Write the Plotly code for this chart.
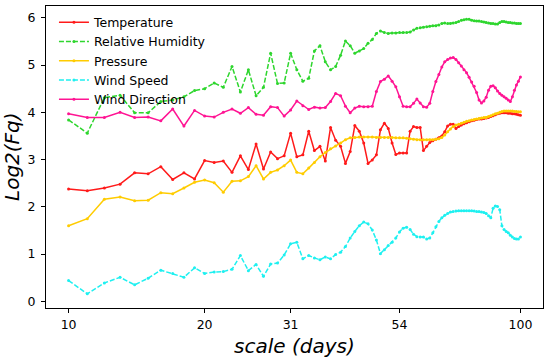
import plotly.graph_objects as go

scales = list(range(10, 101))

temperature = [2.38, 2.34, 2.40, 2.48, 2.72, 2.70, 2.85, 2.58, 2.72, 2.59,
               2.98, 2.94, 2.97, 2.73, 3.08, 2.79, 3.33, 2.80, 3.16, 3.02,
               3.08, 3.56, 3.06, 3.10, 3.60, 3.19, 3.28, 2.97, 3.68, 3.41,
               3.28, 2.92, 3.17, 3.72, 3.60, 3.35, 2.92, 2.99, 3.10, 3.63,
               3.77, 3.66, 3.35, 3.11, 3.14, 3.14, 3.14, 3.60, 3.70, 3.68,
               3.68, 3.19, 3.28, 3.36, 3.40, 3.43, 3.46, 3.50, 3.59, 3.71,
               3.75, 3.75, 3.66, 3.70, 3.73, 3.76, 3.78, 3.80, 3.82, 3.83,
               3.85, 3.86, 3.86, 3.87, 3.88, 3.89, 3.91, 3.93, 3.95, 3.97,
               3.98, 3.99, 3.99, 3.99, 3.98, 3.98, 3.97, 3.97, 3.96, 3.95,
               3.94]

humidity = [3.84, 3.56, 4.31, 4.36, 3.99, 3.99, 4.23, 4.26, 4.33, 4.46,
            4.50, 4.62, 4.53, 4.97, 4.43, 4.90, 4.35, 4.53, 5.25, 4.61,
            4.62, 5.25, 4.90, 4.66, 4.72, 5.30, 5.41, 5.07, 4.90, 4.97,
            5.21, 5.51, 5.41, 5.25, 5.30, 5.35, 5.46, 5.54, 5.67, 5.72,
            5.69, 5.67, 5.68, 5.68, 5.69, 5.69, 5.69, 5.70, 5.74, 5.78,
            5.79, 5.80, 5.81, 5.82, 5.83, 5.83, 5.85, 5.88, 5.89, 5.88,
            5.88, 5.89, 5.90, 5.92, 5.95, 5.96, 5.97, 5.97, 5.95, 5.94,
            5.93, 5.93, 5.92, 5.91, 5.90, 5.89, 5.88, 5.88, 5.87, 5.87,
            5.90, 5.92, 5.92, 5.91, 5.90, 5.90, 5.89, 5.89, 5.88, 5.88,
            5.88]

pressure = [1.60, 1.75, 2.16, 2.21, 2.13, 2.14, 2.30, 2.28, 2.40, 2.52,
            2.57, 2.51, 2.31, 2.54, 2.55, 2.64, 2.87, 2.59, 2.73, 2.78,
            2.87, 2.99, 2.73, 2.70, 2.82, 2.94, 3.06, 3.15, 3.23, 3.29,
            3.35, 3.42, 3.46, 3.47, 3.48, 3.48, 3.48, 3.48, 3.47, 3.47,
            3.47, 3.47, 3.47, 3.46, 3.46, 3.46, 3.45, 3.44, 3.43, 3.42,
            3.42, 3.42, 3.42, 3.42, 3.42, 3.43, 3.44, 3.47, 3.52, 3.59,
            3.65, 3.70, 3.73, 3.75, 3.77, 3.79, 3.81, 3.82, 3.84, 3.85,
            3.86, 3.87, 3.88, 3.89, 3.89, 3.91, 3.93, 3.95, 3.97, 3.98,
            4.00, 4.02, 4.03, 4.03, 4.03, 4.03, 4.03, 4.02, 4.02, 4.01,
            4.01]

wind_speed = [0.44, 0.16, 0.39, 0.51, 0.35, 0.49, 0.66, 0.59, 0.51, 0.71,
              0.59, 0.62, 0.63, 0.68, 0.97, 0.65, 0.78, 0.53, 0.79, 0.81,
              0.98, 1.22, 1.25, 0.90, 0.97, 0.92, 0.88, 0.94, 0.90, 0.99,
              1.04, 1.16, 1.34, 1.48, 1.60, 1.68, 1.64, 1.51, 1.30, 1.01,
              1.09, 1.18, 1.25, 1.34, 1.47, 1.55, 1.57, 1.52, 1.42, 1.37,
              1.36, 1.36, 1.32, 1.34, 1.45, 1.58, 1.69, 1.77, 1.82, 1.86,
              1.89, 1.90, 1.91, 1.92, 1.92, 1.92, 1.92, 1.92, 1.92, 1.91,
              1.90, 1.90, 1.89, 1.88, 1.86, 1.81, 1.77, 1.97, 2.02, 2.01,
              1.94, 1.60, 1.52, 1.48, 1.45, 1.40, 1.36, 1.33, 1.32, 1.32,
              1.36]

wind_direction = [3.97, 3.89, 3.89, 4.00, 3.89, 3.90, 3.82, 4.07, 3.71, 4.04,
                  3.92, 3.90, 4.00, 4.07, 3.98, 4.10, 3.96, 3.94, 4.12, 4.10,
                  3.92, 4.05, 4.24, 4.14, 4.06, 4.11, 4.09, 4.10, 4.23, 4.40,
                  4.35, 4.13, 3.99, 4.09, 4.13, 4.12, 4.12, 4.13, 4.44, 4.65,
                  4.70, 4.77, 4.66, 4.54, 4.33, 4.13, 4.12, 4.12, 4.19, 4.28,
                  4.20, 4.12, 4.11, 4.19, 4.44, 4.65, 4.80, 4.96, 5.07, 5.12,
                  5.15, 5.16, 5.12, 5.05, 4.98, 4.90, 4.84, 4.74, 4.64, 4.55,
                  4.42, 4.26, 4.20, 4.24, 4.32, 4.47, 4.55, 4.56, 4.52, 4.45,
                  4.40, 4.36, 4.33, 4.30, 4.26, 4.23, 4.33, 4.47, 4.58, 4.66,
                  4.75]

x_tick_vals = [10, 20, 31, 54, 100]
x_tick_text = ["10", "20", "31", "54", "100"]
y_tick_vals = [0, 1, 2, 3, 4, 5, 6]

series = [
    ("Temperature", temperature, "#ff1a1a", "solid"),
    ("Relative Humidity", humidity, "#2ed62e", "5px,2px"),
    ("Pressure", pressure, "#ffcc00", "solid"),
    ("Wind Speed", wind_speed, "#1ef0f0", "5px,2px"),
    ("Wind Direction", wind_direction, "#ff1493", "solid"),
]

fig = go.Figure()
for name, vals, color, dash in series:
    fig.add_trace(go.Scatter(
        x=scales, y=vals, name=name, mode="lines+markers",
        line=dict(color=color, width=1.5, dash=dash),
        marker=dict(color=color, size=3),
    ))

font = "DejaVu Sans, Liberation Sans, sans-serif"
axis_common = dict(showgrid=False, zeroline=False, automargin=False,
                   showline=True, linecolor="black", linewidth=1, mirror=True,
                   ticks="outside", ticklen=4, tickcolor="black",
                   tickfont=dict(size=12.5))

fig.update_layout(
    width=550, height=361,
    margin=dict(l=46, r=7, t=6, b=53),
    paper_bgcolor="white", plot_bgcolor="white",
    font=dict(family=font, size=12, color="black"),
    showlegend=True,
    legend=dict(x=0.016, y=0.995, xanchor="left", yanchor="top",
                bgcolor="rgba(0,0,0,0)", font=dict(size=12.5, family=font),
                itemwidth=30, tracegroupgap=0),
    xaxis=dict(type="log", range=[0.95, 2.05],
               tickvals=x_tick_vals, ticktext=x_tick_text,
               ticklabelstandoff=1, **axis_common),
    yaxis=dict(range=[-0.14, 6.25], tickvals=y_tick_vals,
               ticklabelstandoff=3, **axis_common),
    annotations=[
        dict(text="<i>scale (days)</i>", xref="paper", yref="paper",
             x=0.5, y=0, yshift=-38, xanchor="center", yanchor="middle",
             showarrow=False, font=dict(size=20, family=font)),
        dict(text="<i>Log2(Fq)</i>", xref="paper", yref="paper",
             x=0, y=0.5, xshift=-34, xanchor="center", yanchor="middle",
             textangle=-90, showarrow=False, font=dict(size=20, family=font)),
    ],
)

fig.write_html("out.html", config={"displayModeBar": False},
               post_script="document.body.style.margin='0';document.body.style.padding='0';")
